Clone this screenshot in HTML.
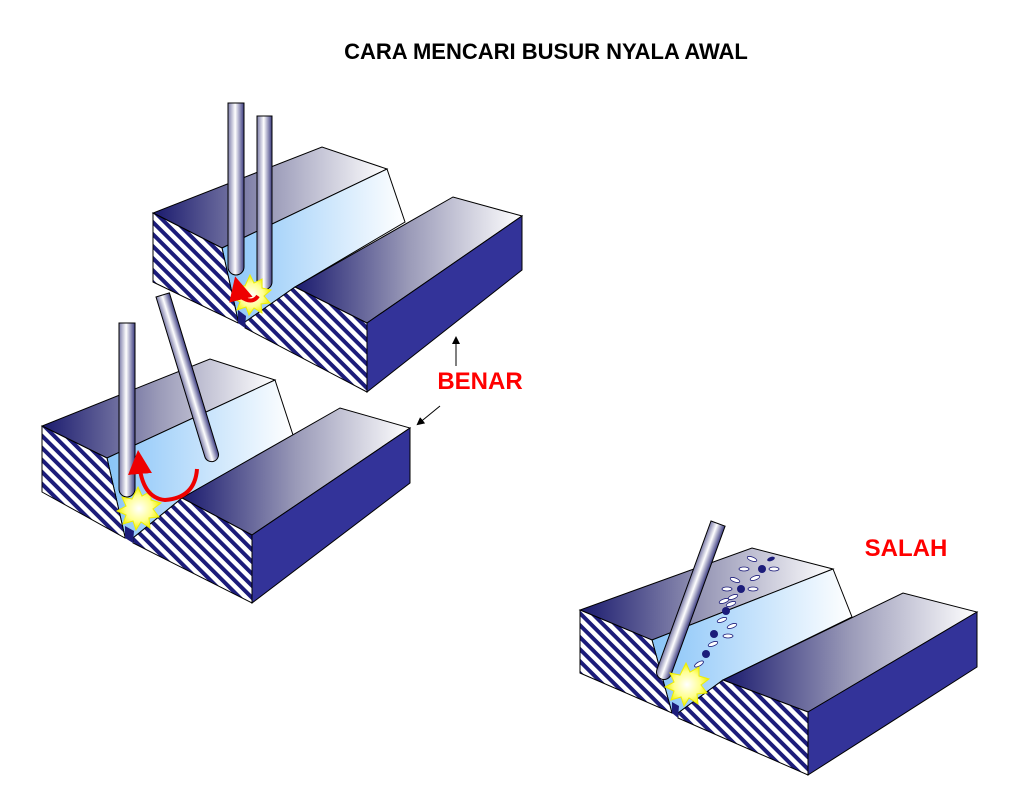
<!DOCTYPE html>
<html><head><meta charset="utf-8"><style>
html,body{margin:0;padding:0;background:#fff;}
svg{display:block;}
</style></head><body>
<svg width="1024" height="802" viewBox="0 0 1024 802" xmlns="http://www.w3.org/2000/svg">
<defs>
<pattern id="hatch" width="8.5" height="8.5" patternUnits="userSpaceOnUse" patternTransform="rotate(-45)">
<rect width="8.5" height="8.5" fill="#fff"/><rect width="4" height="8.5" fill="#1c1c7a"/>
</pattern>
<linearGradient id="top" x1="0" x2="1" y1="0" y2="0">
<stop offset="0" stop-color="#1a1a6e"/><stop offset="0.5" stop-color="#9a9ab8"/><stop offset="1" stop-color="#ffffff"/>
</linearGradient>
<linearGradient id="bev" x1="0" x2="1" y1="0" y2="0">
<stop offset="0" stop-color="#88c4f8"/><stop offset="1" stop-color="#ffffff"/>
</linearGradient>
<linearGradient id="rod" x1="0" x2="1" y1="0" y2="0">
<stop offset="0" stop-color="#7a7aa8"/><stop offset="0.45" stop-color="#ffffff"/><stop offset="1" stop-color="#3a3a80"/>
</linearGradient>
<radialGradient id="spark"><stop offset="0" stop-color="#fff"/><stop offset="0.6" stop-color="#ffff90"/><stop offset="1" stop-color="#f0f000"/></radialGradient>
<marker id="ah" markerWidth="8" markerHeight="8" refX="6" refY="4" orient="auto"><path d="M0,0 L8,4 L0,8 Z" fill="#000"/></marker>
<marker id="rah" markerWidth="6" markerHeight="6" refX="3" refY="3" orient="auto"><path d="M0,0 L6,3 L0,6 Z" fill="#e00"/></marker>
</defs>

<text x="546" y="59" text-anchor="middle" font-family="Liberation Sans, sans-serif" font-weight="bold" font-size="22">CARA MENCARI BUSUR NYALA AWAL</text>

<!-- TOP BLOCK -->
<g stroke="#000" stroke-width="1">
<polygon points="153,213 222,248 387,169 322,147" fill="url(#top)"/>
<polygon points="222,248 387,169 405,222 295,287 245,322 238,320" fill="url(#bev)"/>
<polygon points="153,213 222,248 238,320 238,323 153,282" fill="url(#hatch)"/>
<polygon points="295,287 367,323 522,216 453,197" fill="url(#top)"/>
<polygon points="245,322 295,287 367,323 367,392 245,328" fill="url(#hatch)"/>
<polygon points="367,323 522,216 522,270 367,392" fill="#333399"/>
<polygon points="238,310 246,316 245,328 238,323" fill="#1c1c7a" stroke="none"/>
</g>
<path d="M228,103 H244 V267 A8,8 0 0 1 228,267 Z" fill="url(#rod)" stroke="#000"/>
<path d="M257,116 H272 V282 A7.5,7.5 0 0 1 257,282 Z" fill="url(#rod)" stroke="#000"/>
<polygon points="250,275 254,283 262,279 262,288 271,290 264,296 270,303 261,304 262,313 254,308 249,315 246,307 237,310 240,302 232,298 240,293 236,285 245,286" fill="url(#spark)" stroke="#ee0" stroke-width="1"/>
<path d="M258,296 Q252,305 240,296 L238,288" fill="none" stroke="#e00" stroke-width="4" marker-end="url(#rah)"/>

<!-- BENAR -->
<line x1="456" y1="366" x2="456" y2="338" stroke="#000" marker-end="url(#ah)"/>
<text x="480" y="389" text-anchor="middle" font-family="Liberation Sans, sans-serif" font-weight="bold" font-size="24" fill="#f00">BENAR</text>
<line x1="440" y1="406" x2="418" y2="424" stroke="#000" marker-end="url(#ah)"/>

<!-- SECOND BLOCK -->
<g stroke="#000" stroke-width="1">
<polygon points="42,426 107,458 275,380 210,359" fill="url(#top)"/>
<polygon points="107,458 275,380 293,435 182,498 133,538 125,537" fill="url(#bev)"/>
<polygon points="42,426 107,458 125,537 125,538 42,492" fill="url(#hatch)"/>
<polygon points="182,498 252,535 410,428 340,408" fill="url(#top)"/>
<polygon points="133,538 182,498 252,535 252,603 133,543" fill="url(#hatch)"/>
<polygon points="252,535 410,428 410,483 252,603" fill="#333399"/>
<polygon points="125,526 134,531 133,543 125,538" fill="#1c1c7a" stroke="none"/>
</g>
<path d="M119,323 H135 V489 A8,8 0 0 1 119,489 Z" fill="url(#rod)" stroke="#000"/>
<g transform="translate(156,297) rotate(-17)">
<path d="M0,0 H14 V167 A7,7 0 0 1 0,167 Z" fill="url(#rod)" stroke="#000"/>
</g>
<polygon points="138,487 142,496 151,491 151,500 161,503 153,509 159,517 149,518 150,528 141,522 136,530 133,521 123,524 126,515 117,511 126,506 122,497 132,499" fill="url(#spark)" stroke="#ee0"/>
<path d="M197,469 Q195,498 165,500 Q142,498 139,462" fill="none" stroke="#e00" stroke-width="4" marker-end="url(#rah)"/>

<!-- SALAH -->
<text x="906" y="556" text-anchor="middle" font-family="Liberation Sans, sans-serif" font-weight="bold" font-size="24" fill="#f00">SALAH</text>
<g stroke="#000" stroke-width="1">
<polygon points="580,610 652,640 833,569 752,548" fill="url(#top)"/>
<polygon points="652,640 833,569 852,617 723,680 678,713 672,713" fill="url(#bev)"/>
<polygon points="580,610 652,640 672,713 580,673" fill="url(#hatch)"/>
<polygon points="723,680 808,712 977,612 903,593" fill="url(#top)"/>
<polygon points="678,713 723,680 808,712 808,775 678,718" fill="url(#hatch)"/>
<polygon points="808,712 977,612 977,667 808,775" fill="#333399"/>
<polygon points="672,702 679,706 678,718 672,713" fill="#1c1c7a" stroke="none"/>
</g>
<g fill="#fff" stroke="#1c1c7a" stroke-width="0.8">
<ellipse cx="752" cy="559" rx="5" ry="2" transform="rotate(20 752 559)"/>
<ellipse cx="744" cy="569" rx="5" ry="2"/>
<ellipse cx="774" cy="569" rx="5" ry="2"/>
<ellipse cx="755" cy="578" rx="5" ry="2" transform="rotate(-20 755 578)"/>
<ellipse cx="735" cy="580" rx="5" ry="2" transform="rotate(20 735 580)"/>
<ellipse cx="727" cy="589" rx="5" ry="2"/>
<ellipse cx="753" cy="589" rx="5" ry="2"/>
<ellipse cx="733" cy="597" rx="5" ry="2" transform="rotate(-20 733 597)"/>
<ellipse cx="724" cy="601" rx="5" ry="2" transform="rotate(-20 724 601)"/>
<ellipse cx="731" cy="604" rx="5" ry="2" transform="rotate(-20 731 604)"/>
<ellipse cx="722" cy="620" rx="5" ry="2" transform="rotate(-20 722 620)"/>
<ellipse cx="732" cy="626" rx="5" ry="2" transform="rotate(-20 732 626)"/>
<ellipse cx="728" cy="636" rx="5" ry="2"/>
<ellipse cx="713" cy="644" rx="5" ry="2" transform="rotate(-20 713 644)"/>
<ellipse cx="699" cy="664" rx="5" ry="2" transform="rotate(-30 699 664)"/>
</g>
<g fill="#1c1c7a">
<ellipse cx="771" cy="559" rx="4" ry="2" transform="rotate(-20 771 559)"/>
<circle cx="762" cy="569" r="4"/><circle cx="741" cy="589" r="4"/><circle cx="726" cy="611" r="4"/><circle cx="714" cy="634" r="4"/><circle cx="706" cy="654" r="4"/>
</g>
<g transform="translate(711,521) rotate(20)">
<path d="M0,0 H15 V158 A7.5,7.5 0 0 1 0,158 Z" fill="url(#rod)" stroke="#000"/>
</g>
<polygon points="686,663 690,672 699,667 699,676 709,679 701,685 707,693 697,694 698,704 689,698 684,706 681,697 671,700 674,691 665,687 674,682 670,673 680,675" fill="url(#spark)" stroke="#ee0"/>
</svg>
</body></html>
